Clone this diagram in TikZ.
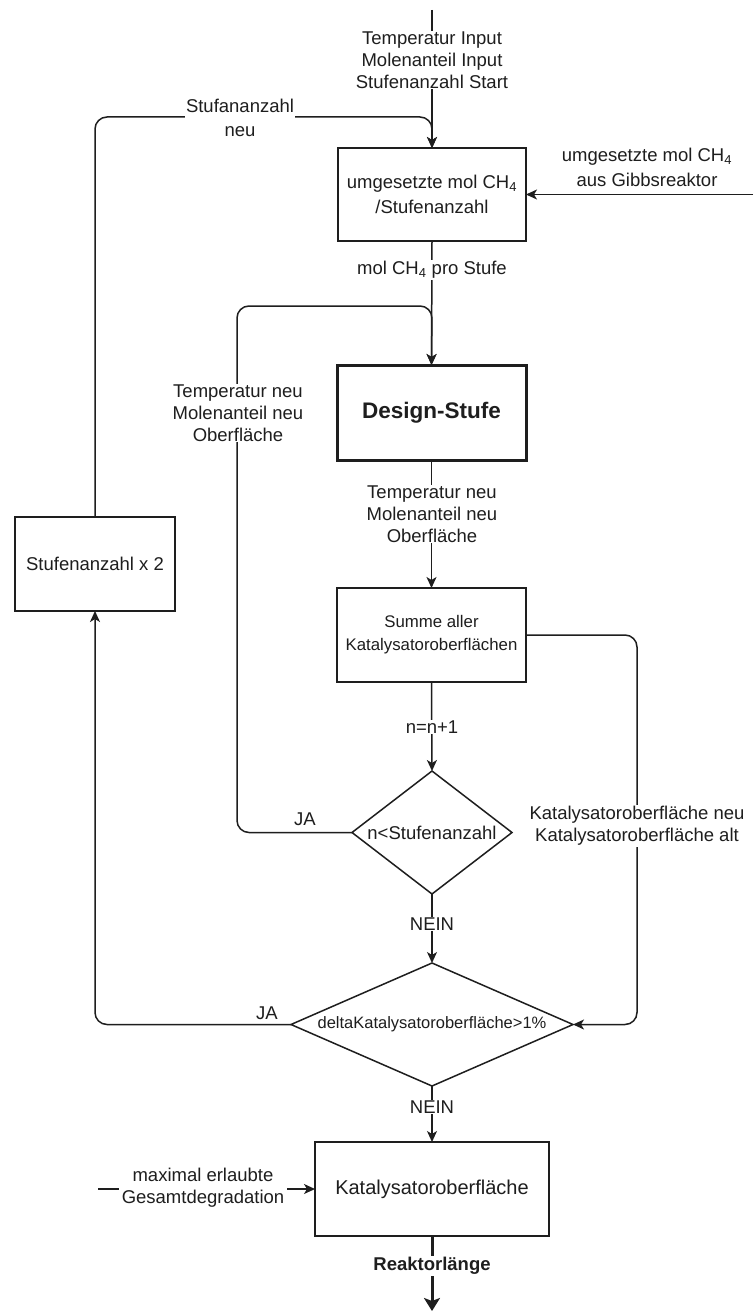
\documentclass[tikz,border=0pt]{standalone}
\usepackage{fontspec}
\setmainfont{Liberation Sans}
\usetikzlibrary{arrows.meta,shapes.geometric}
\newcommand\setfs[2]{\fontsize{#1}{#2}\selectfont}
\definecolor{ink}{HTML}{1E1E1E}

\begin{document}
\begin{tikzpicture}[x=1pt,y=-1pt,
  every node/.style={text=ink},
  box/.style={draw=ink, line width=1.5pt, inner sep=0pt, outer sep=0pt, align=center, font=\setfs{18.5}{25}},
  diam/.style={draw=ink, line width=1.5pt, diamond, inner sep=0pt, outer sep=0pt},
  lbl/.style={fill=white, inner sep=1pt, align=center, font=\setfs{18.5}{22}},
  txt/.style={inner sep=1pt, align=center, font=\setfs{18.5}{22}},
  arr/.style={draw=ink, line width=1.5pt, rounded corners=12pt, -{Stealth[length=11pt,width=10pt,inset=3pt]}},
  bigarr/.style={draw=ink, line width=3pt, -{Stealth[length=13pt,width=16pt,inset=3pt]}}
]
\fill[white] (0,0) rectangle (753,1311);
\useasboundingbox (0,0) rectangle (753,1311);

% process boxes
\node[box, minimum width=188pt, minimum height=93pt] (b1) at (432,194.5)
  {umgesetzte mol CH\textsubscript{4}\\/Stufenanzahl};
\node[box, line width=3pt, minimum width=189pt, minimum height=95pt, font=\bfseries\setfs{22.5}{26}] (ds) at (431.5,412.5) {Design-Stufe};
\node[box, minimum width=189pt, minimum height=94pt, font=\setfs{16.8}{23}] (sum) at (431.5,635)
  {Summe aller\\Katalysatoroberflächen};
\node[box, minimum width=160pt, minimum height=94pt] (b2) at (95,564) {Stufenanzahl x 2};
\node[box, minimum width=234pt, minimum height=94pt, font=\setfs{20}{24}] (b3) at (432,1189) {Katalysatoroberfläche};

% decisions
\node[diam, minimum width=160pt, minimum height=123pt] (d1) at (432,832.5) {};
\node[txt] at (d1.center) {n<Stufenanzahl};
\node[diam, minimum width=282pt, minimum height=123pt] (d2) at (432,1024.5) {};
\node[txt, font=\setfs{16.5}{20}] at (d2.center) {deltaKatalysatoroberfläche>1\%};

% free ends and bends
\coordinate (in) at (432,10);
\coordinate (j1) at (432,117);
\coordinate (gin) at (753,194.5);
\coordinate (c2) at (237,306);
\coordinate (j2) at (432,306);
\coordinate (c3) at (637,635);
\coordinate (mx) at (98,1189);
\coordinate (out) at (432,1311);

% connectors
\draw[arr] (in) -- (b1.north);
\node[lbl] at (432,60) {Temperatur Input\\Molenanteil Input\\Stufenanzahl Start};

\draw[arr] (b2.north) |- (j1) -- (b1.north);
\node[lbl, font=\setfs{18.5}{24}] at (240,118) {Stufananzahl\\neu};

\draw[arr] (gin) -- (b1.east);
\node[txt, font=\setfs{18.5}{25}] at (647,167) {umgesetzte mol CH\textsubscript{4}\\aus Gibbsreaktor};

\draw[arr] (b1.south) -- (ds.north);
\node[lbl] at (432,270) {mol CH\textsubscript{4} pro Stufe};

\draw[arr] (d1.west) -| (c2) -- (j2) -- (ds.north);
\node[lbl] at (238,413) {Temperatur neu\\Molenanteil neu\\Oberfläche};
\node[txt] at (305,819) {JA};

\draw[arr] (ds.south) -- (sum.north);
\node[lbl] at (432,514) {Temperatur neu\\Molenanteil neu\\Oberfläche};

\draw[arr] (sum.south) -- (d1.north);
\node[lbl] at (432,727) {n=n+1};

\draw[arr] (sum.east) -- (c3) |- (d2.east);
\node[lbl] at (637,826) {Katalysatoroberfläche neu\\Katalysatoroberfläche alt};

\draw[arr] (d1.south) -- (d2.north);
\node[lbl] at (432,924) {NEIN};

\draw[arr] (d2.west) -| (b2.south);
\node[txt] at (267,1013) {JA};

\draw[arr] (d2.south) -- (b3.north);
\node[lbl] at (432,1107) {NEIN};

\draw[arr] (mx) -- (b3.west);
\node[lbl, inner sep=3pt] at (203,1188) {maximal erlaubte\\Gesamtdegradation};

\draw[bigarr] (b3.south) -- (out);
\node[lbl, font=\bfseries\setfs{18.5}{22}] at (432,1266) {Reaktorlänge};
\end{tikzpicture}
\end{document}
